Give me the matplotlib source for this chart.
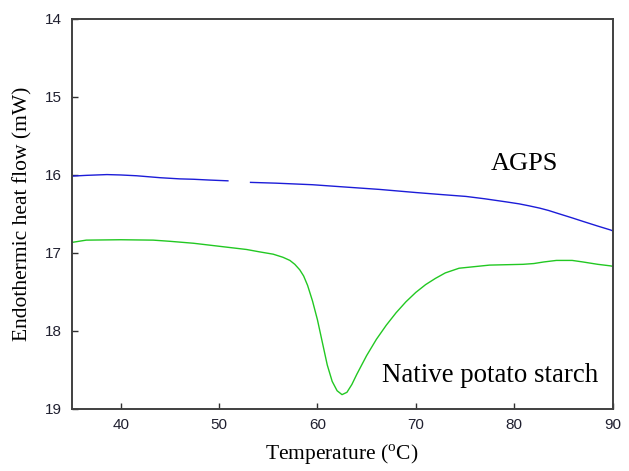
import numpy as np
import matplotlib
matplotlib.use("Agg")
import matplotlib.pyplot as plt

# AGPS curve (blue); NaN marks the gap in the trace
agps_t = [35.0, 36.5, 38.6, 40.0, 41.6, 44.0, 46.0, 47.4, 49.0, 50.9, 51.0, 53.2, 55.8,
          59.5, 62.3, 66.3, 70.0, 72.5, 75.1, 77.0, 79.2, 80.5, 81.5, 82.6, 83.5,
          84.5, 85.9, 87.0, 88.5, 89.8, 90.0]
agps_y = [16.02, 16.01, 16.00, 16.005, 16.015, 16.04, 16.055, 16.06, 16.07, 16.08, np.nan, 16.10, 16.11,
          16.13, 16.155, 16.19, 16.23, 16.255, 16.28, 16.31, 16.35, 16.375, 16.40, 16.43, 16.46,
          16.50, 16.555, 16.60, 16.66, 16.71, 16.72]

# Native potato starch curve (green)
nps_t = [35.0, 36.5, 40.0, 43.3, 45.0, 47.4, 50.1, 52.8, 54.1, 55.5, 56.5, 57.2, 57.7,
         58.2, 58.6, 59.0, 59.5, 60.0, 60.5, 61.0, 61.5, 62.0, 62.5, 63.0, 63.5,
         64.0, 64.5, 65.0, 66.0, 67.0, 68.0, 69.0, 70.0, 71.0, 72.0, 73.0, 74.4,
         77.5, 80.9, 82.0, 83.0, 84.3, 85.9, 87.0, 88.5, 89.8, 90.0]
nps_y = [16.87, 16.84, 16.835, 16.84, 16.855, 16.88, 16.92, 16.96, 16.99, 17.02, 17.06, 17.10, 17.15,
         17.22, 17.30, 17.42, 17.62, 17.86, 18.15, 18.44, 18.65, 18.77, 18.82, 18.79, 18.69,
         18.56, 18.44, 18.32, 18.11, 17.93, 17.77, 17.63, 17.51, 17.41, 17.33, 17.26, 17.20,
         17.16, 17.15, 17.14, 17.12, 17.10, 17.10, 17.12, 17.15, 17.17, 17.175]

x_ticks = [40, 50, 60, 70, 80, 90]
y_ticks = [14, 15, 16, 17, 18, 19]

plt.rcParams['mathtext.fontset'] = 'custom'
plt.rcParams['mathtext.rm'] = 'Liberation Serif'

fig = plt.figure(figsize=(6.29, 4.71), dpi=100)
ax = fig.add_axes([0.1137, 0.1323, 0.8601, 0.8284])

ax.plot(agps_t, agps_y, color='#1c1cd8', lw=1.0, solid_joinstyle='round')
ax.plot(nps_t, nps_y, color='#22c822', lw=1.0, solid_joinstyle='round')

ax.set_xlim(35, 90)
ax.set_ylim(19, 14)
ax.set_xticks(x_ticks)
ax.set_yticks(y_ticks)

for s in ['left', 'bottom', 'right', 'top']:
    ax.spines[s].set_color('#404040')
    ax.spines[s].set_linewidth(1.4)

ax.tick_params(direction='in', length=4, width=1, color='#303030',
               labelsize=11, labelcolor='#202030', pad=7,
               top=False, right=False)
for lab in ax.get_xticklabels() + ax.get_yticklabels():
    lab.set_family('Liberation Sans')

serif = 'Liberation Serif'
ax.set_xlabel('Temperature ($^{\\mathrm{o}}$C)', family=serif, fontsize=15.5, labelpad=7)
ax.set_ylabel('Endothermic heat flow (mW)', family=serif, fontsize=15.5, labelpad=9)

ax.text(77.65, 15.94, 'AGPS', family=serif, fontsize=19, ha='left', va='baseline')
ax.text(66.6, 18.66, 'Native potato starch', family=serif, fontsize=19.4, ha='left', va='baseline')

fig.savefig('out.png', dpi=100)
